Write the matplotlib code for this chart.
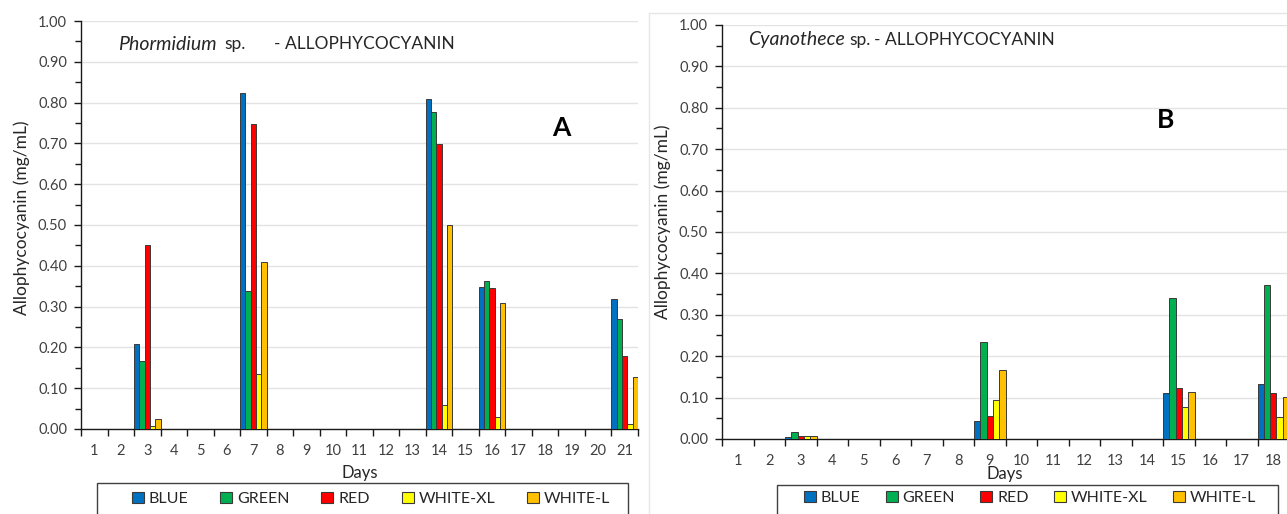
import matplotlib
matplotlib.use("Agg")
import matplotlib.pyplot as plt
from matplotlib.patches import Patch, Rectangle
from matplotlib.lines import Line2D
from matplotlib.ticker import MultipleLocator, FixedLocator, NullFormatter
import numpy as np

plt.rcParams["font.family"] = ["Lato", "DejaVu Sans"]

series = ["BLUE", "GREEN", "RED", "WHITE-XL", "WHITE-L"]
colors = ["#0070C0", "#00B050", "#FF0000", "#FFFF00", "#FFC000"]
all_days = list(range(1, 22))

# Panel A - Phormidium sp.
days_a = [3, 7, 14, 16, 21]
blue_a = [0.209, 0.823, 0.810, 0.348, 0.319]
green_a = [0.167, 0.338, 0.778, 0.363, 0.270]
red_a = [0.450, 0.748, 0.698, 0.346, 0.180]
whitexl_a = [0.008, 0.134, 0.060, 0.030, 0.013]
whitel_a = [0.025, 0.410, 0.499, 0.308, 0.127]

# Panel B - Cyanothece sp.
days_b = [3, 9, 15, 18]
blue_b = [0.005, 0.044, 0.110, 0.132]
green_b = [0.016, 0.235, 0.340, 0.372]
red_b = [0.008, 0.056, 0.122, 0.112]
whitexl_b = [0.008, 0.093, 0.078, 0.054]
whitel_b = [0.008, 0.167, 0.113, 0.101]

W, H = 1287, 514
TXT = "#262626"


def fx(x):
    return x / W


def fy(y):
    return 1 - y / H


def px_axes(fig, x0, x1, ytop, ybot):
    return fig.add_axes([fx(x0), fy(ybot), (x1 - x0) / W, (ybot - ytop) / H])


def style_axes(ax):
    ax.set_xlim(0.5, 21.5)
    ax.set_ylim(0, 1.0)
    for s in ["top", "right"]:
        ax.spines[s].set_visible(False)
    for s in ["left", "bottom"]:
        ax.spines[s].set_color("#1A1A1A")
        ax.spines[s].set_linewidth(1.0)
    ax.yaxis.set_major_locator(MultipleLocator(0.1))
    ax.yaxis.set_minor_locator(MultipleLocator(0.05))
    ax.yaxis.set_major_formatter(lambda v, p: f"{v:.2f}")
    ax.grid(axis="y", color="#E3E3E3", linewidth=1.0)
    ax.set_axisbelow(True)
    ax.tick_params(axis="y", which="major", length=5, width=1, colors="#1A1A1A",
                   labelcolor="#404040", labelsize=10.5, pad=5)
    ax.tick_params(axis="y", which="minor", length=4, width=1, colors="#1A1A1A")
    # tick marks on category boundaries, labels in the middle
    ax.xaxis.set_major_locator(FixedLocator(np.arange(0.5, 22, 1)))
    ax.xaxis.set_major_formatter(NullFormatter())
    ax.xaxis.set_minor_locator(FixedLocator(all_days))
    ax.set_xticklabels([str(d) for d in all_days], minor=True)
    ax.tick_params(axis="x", which="major", length=5, width=1, colors="#1A1A1A")
    ax.tick_params(axis="x", which="minor", length=0, labelsize=10.5,
                   labelcolor="#404040", pad=11)


def draw_bars(ax, days, values):
    days = np.array(days)
    for i, (vals, c) in enumerate(zip(values, colors)):
        ax.bar(days - 0.5 + i * 0.2, vals, width=0.2, align="edge", color=c,
               edgecolor="#3A3A3A", linewidth=0.7, zorder=3)


def title(fig, y, parts):
    # parts: (x, text, italic)
    for x, s, it in parts:
        fig.text(fx(x), fy(y), s, style="italic" if it else "normal",
                 fontsize=14 if it else 12.5, color=TXT, va="center", ha="left")


fig = plt.figure(figsize=(W / 100, H / 100), dpi=100)

# light frame of the right chart
fig.add_artist(Line2D([fx(649), fx(649)], [0, fy(13)], color="#E6E6E6", lw=1))
fig.add_artist(Line2D([fx(649), 1], [fy(13), fy(13)], color="#E6E6E6", lw=1))

ax1 = px_axes(fig, 81, 638, 21, 429)
style_axes(ax1)
draw_bars(ax1, days_a, [blue_a, green_a, red_a, whitexl_a, whitel_a])

ax2 = px_axes(fig, 722, 722 + 21 * 31.5, 25, 439)
style_axes(ax2)
draw_bars(ax2, days_b, [blue_b, green_b, red_b, whitexl_b, whitel_b])

title(fig, 44, [(118, "Phormidium", True), (224, "sp.", False),
                (274, "- ALLOPHYCOCYANIN", False)])
title(fig, 40, [(748, "Cyanothece", True), (849, "sp.", False),
                (874, "- ALLOPHYCOCYANIN", False)])

fig.text(fx(561), fy(128), "A", fontsize=19, fontweight="bold",
         color="#000000", ha="center", va="center")
fig.text(fx(1166), fy(120), "B", fontsize=19, fontweight="bold",
         color="#000000", ha="center", va="center")

fig.text(fx(22), fy(218), "Allophycocyanin (mg/mL)", rotation=90,
         fontsize=12.5, color=TXT, ha="center", va="center")
fig.text(fx(663), fy(222), "Allophycocyanin (mg/mL)", rotation=90,
         fontsize=12.5, color=TXT, ha="center", va="center")
fig.text(fx(360), fy(473), "Days", fontsize=12, color=TXT,
         ha="center", va="center")
fig.text(fx(1005), fy(474), "Days", fontsize=12, color=TXT,
         ha="center", va="center")

handles = [Patch(facecolor=c, edgecolor="#3A3A3A", linewidth=0.8) for c in colors]
legends = [(97, 628, 483, 371, 499, 2.0), (777, 1278, 485, 1030, 498, 1.6)]
for bx0, bx1, top, cx, ty, cs in legends:
    fig.add_artist(Rectangle((fx(bx0), fy(H + 5)), (bx1 - bx0) / W, (H + 5 - top) / H,
                             transform=fig.transFigure, facecolor="none",
                             edgecolor="#404040", linewidth=1.0))
    leg = fig.legend(handles, series, loc="center",
                     bbox_to_anchor=(fx(cx), fy(ty)), ncol=5,
                     frameon=False, fontsize=11.5, handlelength=0.75,
                     handleheight=0.75, handletextpad=0.3, columnspacing=cs,
                     borderpad=0)
    for txt in leg.get_texts():
        txt.set_color(TXT)

fig.savefig("out.png", dpi=100)
